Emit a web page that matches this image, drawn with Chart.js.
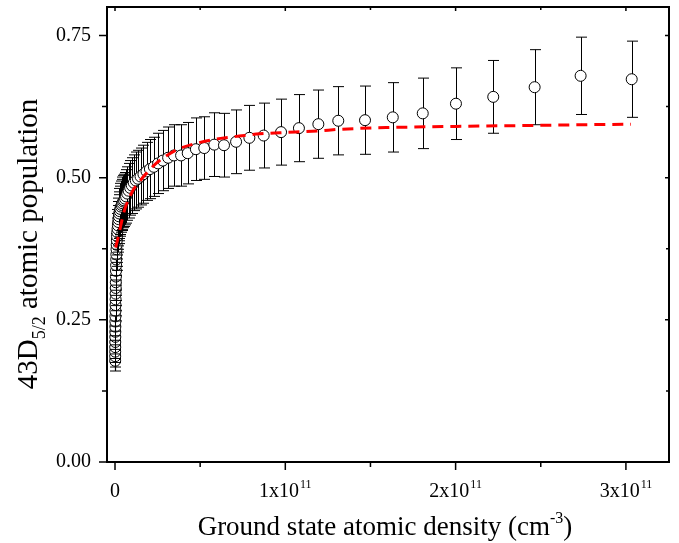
<!DOCTYPE html>
<html>
<head>
<meta charset="utf-8">
<script src="https://cdn.jsdelivr.net/npm/chart.js@4/dist/chart.umd.min.js"></script>
<style>
  body { margin: 0; background: #fff; }
  #wrap { width: 679px; height: 543px; position: relative; }
</style>
</head>
<body>
<div id="wrap"><canvas id="chart"></canvas></div>
<script>
// ground state density, in units of 1e11 cm^-3
const density = [
  0.0010, 0.0011, 0.0012, 0.0013, 0.0015, 0.0017, 0.0018, 0.0020, 0.0023, 0.0025,
  0.0028, 0.0031, 0.0035, 0.0038, 0.0043, 0.0047, 0.0053, 0.0058, 0.0065, 0.0072,
  0.0080, 0.0089, 0.0099, 0.011, 0.012, 0.0135, 0.015, 0.017, 0.019, 0.021,
  0.023, 0.025, 0.028, 0.031, 0.035, 0.039, 0.043, 0.048, 0.053, 0.059,
  0.065, 0.072, 0.080, 0.089, 0.099, 0.110, 0.122, 0.135, 0.150, 0.167,
  0.185, 0.205, 0.228, 0.253, 0.281, 0.312, 0.346, 0.388, 0.427, 0.475,
  0.524, 0.583, 0.640, 0.711, 0.789, 0.873, 0.975, 1.080, 1.194, 1.311,
  1.468, 1.631, 1.807, 2.002, 2.221, 2.464, 2.734, 3.034
];
// measured 43D5/2 population
const population = [
  0.178, 0.186, 0.194, 0.202, 0.211, 0.220, 0.229, 0.238, 0.247, 0.256,
  0.266, 0.276, 0.286, 0.296, 0.306, 0.316, 0.326, 0.336, 0.346, 0.356,
  0.365, 0.374, 0.382, 0.390, 0.397, 0.404, 0.410, 0.416, 0.422, 0.427,
  0.432, 0.437, 0.441, 0.445, 0.449, 0.452, 0.455, 0.458, 0.460, 0.463,
  0.467, 0.472, 0.477, 0.482, 0.486, 0.491, 0.495, 0.498, 0.502, 0.506,
  0.511, 0.515, 0.519, 0.525, 0.530, 0.535, 0.539, 0.539, 0.543, 0.550,
  0.552, 0.558, 0.557, 0.563, 0.570, 0.574, 0.580, 0.587, 0.594, 0.600,
  0.601, 0.606, 0.613, 0.630, 0.642, 0.659, 0.679, 0.673
];
const popError = [
  0.018, 0.019, 0.019, 0.020, 0.021, 0.022, 0.023, 0.024, 0.025, 0.026,
  0.027, 0.028, 0.029, 0.030, 0.031, 0.032, 0.033, 0.034, 0.035, 0.036,
  0.037, 0.037, 0.038, 0.039, 0.040, 0.040, 0.041, 0.042, 0.042, 0.043,
  0.043, 0.044, 0.044, 0.045, 0.045, 0.045, 0.046, 0.046, 0.046, 0.046,
  0.047, 0.047, 0.048, 0.048, 0.049, 0.049, 0.050, 0.050, 0.050, 0.051,
  0.051, 0.052, 0.052, 0.053, 0.053, 0.054, 0.054, 0.054, 0.054, 0.055,
  0.055, 0.056, 0.056, 0.056, 0.057, 0.057, 0.058, 0.059, 0.060, 0.060,
  0.060, 0.061, 0.062, 0.063, 0.064, 0.066, 0.068, 0.067
];

// model curve (red dashed)
const fitDensity = [
  0.004, 0.02, 0.04, 0.06, 0.09, 0.11, 0.14, 0.17, 0.20, 0.23,
  0.30, 0.37, 0.50, 0.62, 0.73, 0.85, 0.97, 1.19, 1.32, 1.60,
  2.00, 2.50, 3.03
];
const fitPopulation = [
  0.377, 0.397, 0.424, 0.447, 0.468, 0.480, 0.491, 0.503, 0.512, 0.522,
  0.538, 0.550, 0.562, 0.569, 0.573, 0.577, 0.579, 0.582, 0.585, 0.588,
  0.590, 0.592, 0.594
];

const xMajorTicks = [0, 1, 2, 3];
const xMinorTicks = [0.5, 1.5, 2.5];
const yMajorTicks = [0, 0.25, 0.5, 0.75];
const yMinorTicks = [0.125, 0.375, 0.625];

const FONT = '"Liberation Serif", "Times New Roman", serif';

const errorBars = {
  id: 'errorBars',
  beforeDatasetDraw(chart, args) {
    if (chart.data.datasets[args.index].label !== 'measured') return;
    const { ctx, scales: { x, y } } = chart;
    ctx.save();
    ctx.strokeStyle = '#000';
    ctx.lineWidth = 1.2;
    args.meta.data.forEach((pt, i) => {
      const px = Math.round(x.getPixelForValue(density[i])) + 0.5;
      const top = y.getPixelForValue(population[i] + popError[i]);
      const bot = y.getPixelForValue(population[i] - popError[i]);
      ctx.beginPath();
      ctx.moveTo(px, top); ctx.lineTo(px, bot);
      ctx.moveTo(px - 5.5, top); ctx.lineTo(px + 5.5, top);
      ctx.moveTo(px - 5.5, bot); ctx.lineTo(px + 5.5, bot);
      ctx.stroke();
      pt.draw(ctx, chart.chartArea);
    });
    ctx.restore();
    return false;
  }
};

const frameAndLabels = {
  id: 'frameAndLabels',
  afterDraw(chart) {
    const { ctx, chartArea: a, scales: { x, y } } = chart;
    ctx.save();
    ctx.strokeStyle = '#000';
    ctx.lineWidth = 2;
    ctx.strokeRect(a.left, a.top, a.right - a.left, a.bottom - a.top);

    ctx.lineWidth = 1.5;
    ctx.beginPath();
    const xt = (v, outLen, inLen) => {
      const p = x.getPixelForValue(v);
      ctx.moveTo(p, a.bottom); ctx.lineTo(p, a.bottom + outLen);
      ctx.moveTo(p, a.top); ctx.lineTo(p, a.top + inLen);
    };
    const yt = (v, outLen, inLen) => {
      const p = y.getPixelForValue(v);
      ctx.moveTo(a.left, p); ctx.lineTo(a.left - outLen, p);
      ctx.moveTo(a.right, p); ctx.lineTo(a.right - inLen, p);
    };
    xMajorTicks.forEach(v => xt(v, 8, 4));
    xMinorTicks.forEach(v => xt(v, 5, 3));
    yMajorTicks.forEach(v => yt(v, 8, 4));
    yMinorTicks.forEach(v => yt(v, 5, 3));
    ctx.stroke();

    // x tick labels with superscript exponent
    ctx.fillStyle = '#000';
    ctx.textBaseline = 'alphabetic';
    ctx.textAlign = 'left';
    xMajorTicks.forEach(v => {
      const p = x.getPixelForValue(v);
      const main = v === 0 ? '0' : v + 'x10';
      const sup = v === 0 ? '' : '11';
      ctx.font = '20px ' + FONT;
      const w1 = ctx.measureText(main).width;
      ctx.font = '12px ' + FONT;
      const w2 = sup ? ctx.measureText(sup).width + 1 : 0;
      const x0 = p - (w1 + w2) / 2;
      ctx.font = '20px ' + FONT;
      ctx.fillText(main, x0, 497);
      if (sup) {
        ctx.font = '12px ' + FONT;
        ctx.fillText(sup, x0 + w1 + 1, 488);
      }
    });

    // x title
    const xParts = [
      { t: 'Ground state atomic density (cm', f: 27, dy: 0 },
      { t: '-3', f: 16, dy: -12 },
      { t: ')', f: 27, dy: 0 }
    ];
    drawParts(ctx, xParts, (a.left + a.right) / 2 - 3, 535);

    // y title, rotated
    ctx.translate(37, 244);
    ctx.rotate(-Math.PI / 2);
    const yParts = [
      { t: '43D', f: 29, dy: 0 },
      { t: '5/2', f: 18, dy: 8 },
      { t: ' atomic population', f: 29, dy: 0 }
    ];
    drawParts(ctx, yParts, 0, 0);
    ctx.restore();
  }
};

function drawParts(ctx, parts, cx, base) {
  let total = 0;
  parts.forEach(p => {
    ctx.font = p.f + 'px ' + FONT;
    p.w = ctx.measureText(p.t).width;
    total += p.w;
  });
  let cur = cx - total / 2;
  ctx.textAlign = 'left';
  ctx.textBaseline = 'alphabetic';
  parts.forEach(p => {
    ctx.font = p.f + 'px ' + FONT;
    ctx.fillText(p.t, cur, base + p.dy);
    cur += p.w;
  });
}

new Chart(document.getElementById('chart'), {
  type: 'scatter',
  data: {
    datasets: [
      {
        label: 'measured',
        order: 2,
        data: density.map((d, i) => ({ x: d, y: population[i] })),
        pointStyle: 'circle',
        pointRadius: 5.5,
        pointBackgroundColor: '#fff',
        pointBorderColor: '#000',
        pointBorderWidth: 1,
        showLine: false
      },
      {
        label: 'model',
        type: 'line',
        order: 1,
        data: fitDensity.map((d, i) => ({ x: d, y: fitPopulation[i] })),
        borderColor: '#ff0000',
        borderWidth: 3,
        borderDash: [11, 7],
        pointRadius: 0,
        cubicInterpolationMode: 'monotone',
        fill: false
      }
    ]
  },
  options: {
    responsive: true,
    maintainAspectRatio: false,
    animation: false,
    layout: { padding: { top: 7, right: 10, left: 0, bottom: 0 } },
    plugins: { legend: { display: false }, tooltip: { enabled: false } },
    scales: {
      x: {
        type: 'linear',
        min: -0.047,
        max: 3.253,
        grid: { display: false },
        border: { display: false },
        ticks: { display: false },
        afterBuildTicks: s => { s.ticks = xMajorTicks.map(v => ({ value: v })); },
        afterFit: s => { s.height = 81; s.paddingLeft = 0; s.paddingRight = 0; }
      },
      y: {
        type: 'linear',
        min: 0,
        max: 0.8,
        grid: { display: false, drawTicks: false },
        border: { display: false },
        ticks: {
          padding: 16,
          color: '#000',
          font: { family: FONT, size: 20 },
          callback: v => v.toFixed(2)
        },
        afterBuildTicks: s => { s.ticks = yMajorTicks.map(v => ({ value: v })); },
        afterFit: s => { s.width = 107; s.paddingTop = 0; s.paddingBottom = 0; }
      }
    }
  },
  plugins: [errorBars, frameAndLabels]
});
</script>
</body>
</html>
